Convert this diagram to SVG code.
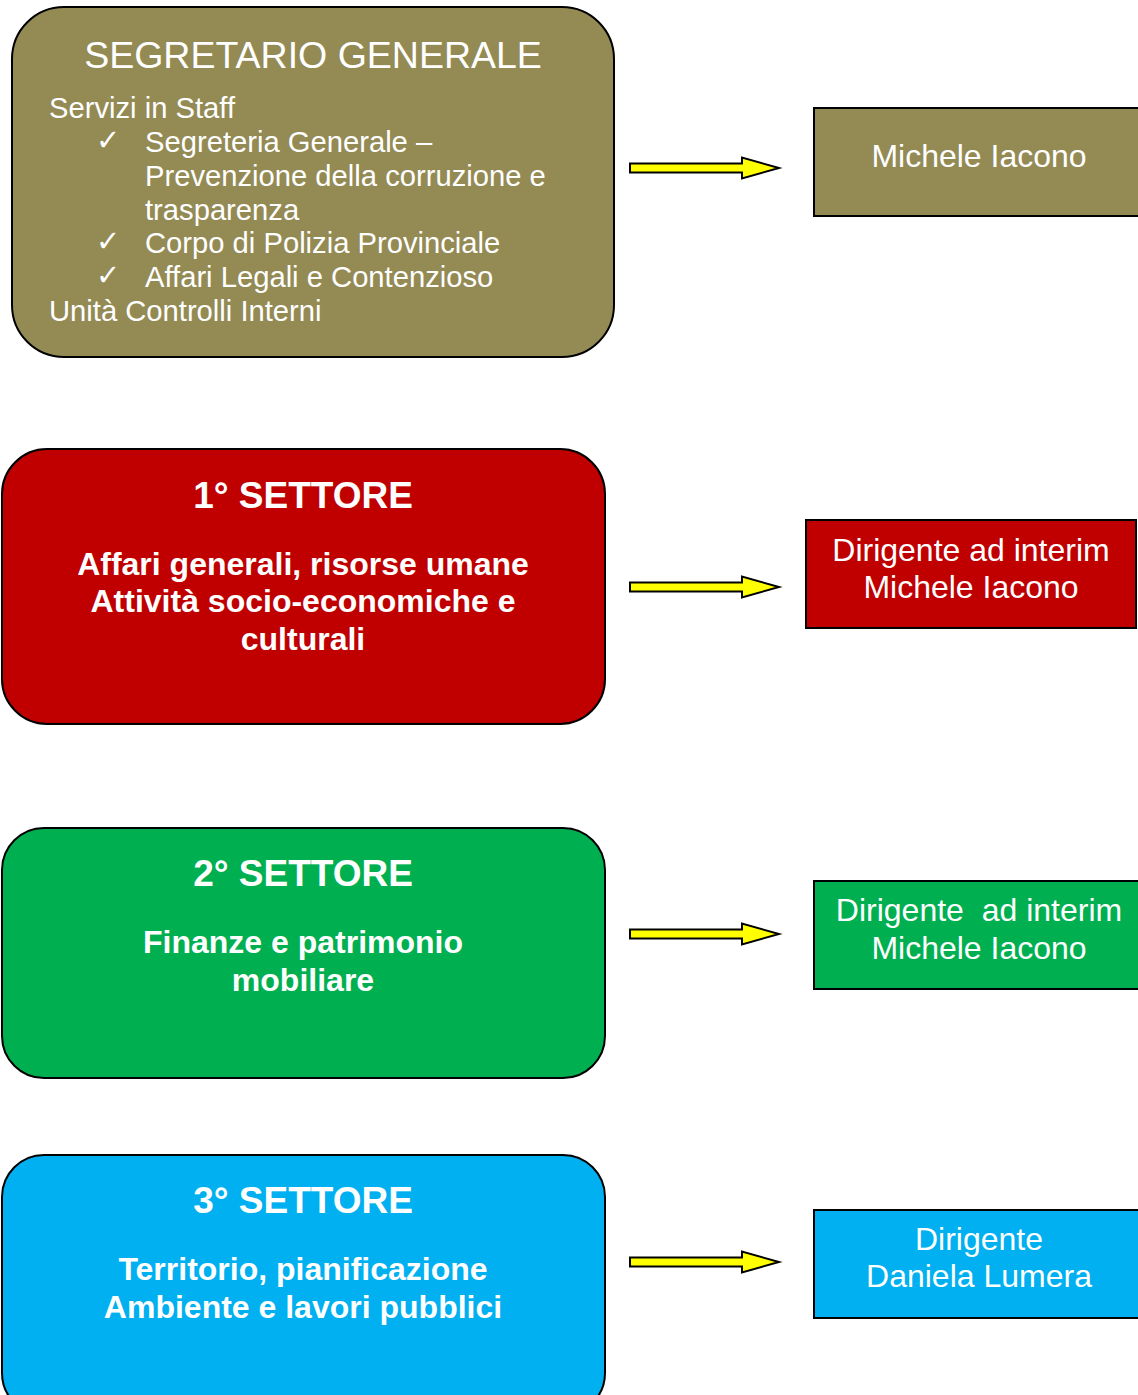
<svg xmlns="http://www.w3.org/2000/svg" width="1138" height="1395" viewBox="0 0 1138 1395">
<style>
.box{stroke:#000;stroke-width:2}
.olive{fill:#948A54}.red{fill:#C00000}.green{fill:#00B050}.blue{fill:#00B0F0}
text{fill:#fff;font-family:"Liberation Sans",Arial,sans-serif}
.t1{font-size:37.5px;text-anchor:middle}
.reg{font-size:29.2px}
.chk{font-family:"DejaVu Sans",sans-serif;font-size:29px}
.bt{font-size:37px;font-weight:bold;text-anchor:middle}
.bb{font-size:32px;font-weight:bold;text-anchor:middle}
.rt{font-size:32px;text-anchor:middle}
.arrow{fill:#FFFF00;stroke:#000;stroke-width:2;stroke-linejoin:miter}
</style>
<defs>
<path id="arr" d="M0,-4.5 H112 V-10.5 L149,0 L112,10.5 V4.5 H0 Z"/>
</defs>
<g id="segretario">
<rect class="box olive" x="12" y="7" width="602" height="350" rx="52"/>
<text class="t1" x="313" y="68">SEGRETARIO GENERALE</text>
<text class="reg" x="49" y="118">Servizi in Staff</text>
<text class="chk" x="96" y="150">✓</text>
<text class="reg" x="145" y="152">Segreteria Generale –</text>
<text class="reg" x="145" y="186">Prevenzione della corruzione e</text>
<text class="reg" x="145" y="220">trasparenza</text>
<text class="chk" x="96" y="251">✓</text>
<text class="reg" x="145" y="253">Corpo di Polizia Provinciale</text>
<text class="chk" x="96" y="285">✓</text>
<text class="reg" x="145" y="287">Affari Legali e Contenzioso</text>
<text class="reg" x="49" y="321">Unità Controlli Interni</text>
</g>
<g id="settore1">
<rect class="box red" x="2" y="449" width="603" height="275" rx="45"/>
<text class="bt" x="303" y="508">1° SETTORE</text>
<text class="bb" x="303" y="575">Affari generali, risorse umane</text>
<text class="bb" x="303" y="612">Attività socio-economiche e</text>
<text class="bb" x="303" y="650">culturali</text>
</g>
<g id="settore2">
<rect class="box green" x="2" y="828" width="603" height="250" rx="42"/>
<text class="bt" x="303" y="886">2° SETTORE</text>
<text class="bb" x="303" y="953">Finanze e patrimonio</text>
<text class="bb" x="303" y="991">mobiliare</text>
</g>
<g id="settore3">
<rect class="box blue" x="2" y="1155" width="603" height="260" rx="42"/>
<text class="bt" x="303" y="1213">3° SETTORE</text>
<text class="bb" x="303" y="1280">Territorio, pianificazione</text>
<text class="bb" x="303" y="1318">Ambiente e lavori pubblici</text>
</g>
<g id="dir0">
<rect class="box olive" x="814" y="108" width="330" height="108"/>
<text class="rt" x="979" y="167">Michele Iacono</text>
</g>
<g id="dir1">
<rect class="box red" x="806" y="520" width="330" height="108"/>
<text class="rt" x="971" y="561">Dirigente ad interim</text>
<text class="rt" x="971" y="598">Michele Iacono</text>
</g>
<g id="dir2">
<rect class="box green" x="814" y="881" width="330" height="108"/>
<text class="rt" x="979" y="921" xml:space="preserve">Dirigente  ad interim</text>
<text class="rt" x="979" y="959">Michele Iacono</text>
</g>
<g id="dir3">
<rect class="box blue" x="814" y="1210" width="330" height="108"/>
<text class="rt" x="979" y="1250">Dirigente</text>
<text class="rt" x="979" y="1287">Daniela Lumera</text>
</g>
<g id="connectors">
<use href="#arr" class="arrow" x="630" y="168"/>
<use href="#arr" class="arrow" x="630" y="587"/>
<use href="#arr" class="arrow" x="630" y="934"/>
<use href="#arr" class="arrow" x="630" y="1262"/>
</g>
</svg>
